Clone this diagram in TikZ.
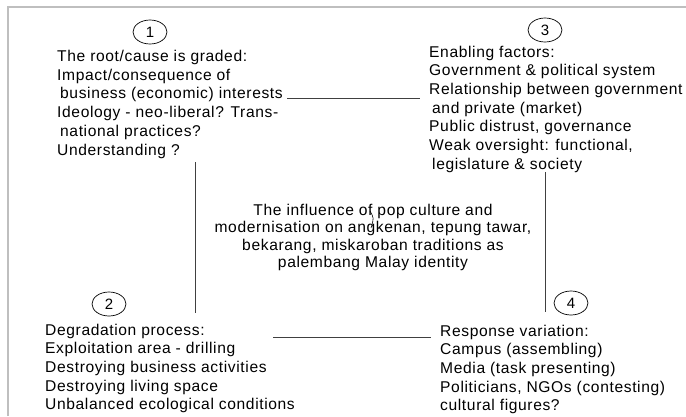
\documentclass[tikz,border=0pt]{standalone}
\usepackage{fontspec}
\setmainfont{Liberation Sans}[LetterSpace=4]
\usetikzlibrary{shapes.geometric,positioning}

\begin{document}
\begin{tikzpicture}[x=1pt,y=-1pt,
  num/.style={draw,ellipse,minimum width=34pt,minimum height=24pt,inner sep=0pt,line width=0.7pt,font=\fontsize{15}{18}\selectfont},
  block/.style={align=left,anchor=north west,inner sep=0pt,font=\fontsize{15.6}{18.7}\selectfont},
  link/.style={draw=black!75,line width=1pt}]
  \useasboundingbox (0,0) rectangle (686,416);
  \draw[black!25,line width=2pt] (8,416) -- (8,7) -- (686,7);

  % numbered points
  \node[num] (n1) at (150,32) {1};
  \node[num] (n3) at (545,30) {3};
  \node[num] (n2) at (109,304) {2};
  \node[num] (n4) at (571,303) {4};

  \node[block] (cause) at (57,50) {The root/cause is graded:\\
    Impact/consequence of\\
    \hspace{3pt}business (economic) interests\\
    Ideology - neo-liberal? Trans-\\
    \hspace{3pt}national practices?\\
    Understanding ?};
  \node[block] (enable) at (429,45.5) {Enabling factors:\\
    Government \& political system\\
    Relationship between government\\
    \hspace{3pt}and private (market)\\
    Public distrust, governance\\
    Weak oversight: functional,\\
    \hspace{3pt}legislature \& society};
  \node[block] (degrade) at (45,323.5) {Degradation process:\\
    Exploitation area - drilling\\
    Destroying business activities\\
    Destroying living space\\
    Unbalanced ecological conditions};
  \node[block] (response) at (440,324.5) {Response variation:\\
    Campus (assembling)\\
    Media (task presenting)\\
    Politicians, NGOs (contesting)\\
    cultural figures?};
  \node[align=center,anchor=north,inner sep=0pt,font=\fontsize{15.6}{17.5}\selectfont] (topic) at (373,203.5)
    {The influence of pop culture and\\
    modernisation on angkenan, tepung tawar,\\
    bekarang, miskaroban traditions as\\
    palembang Malay identity};

  % connector ends
  \coordinate (a1) at (287,98);
  \coordinate (a3) at (420,98);
  \coordinate (b1) at (195,162);
  \coordinate (b2) at (195,313);
  \coordinate (c3) at (545,172);
  \coordinate (c4) at (545,312);
  \coordinate (d2) at (273,337);
  \coordinate (d4) at (431,337);
  \coordinate (m1) at (370,211);
  \coordinate (m2) at (371,228);

  \path[link] (a1) -- (a3);
  \path[link] (b1) -- (b2);
  \path[link] (c3) -- (c4);
  \path[link] (d2) -- (d4);
  \draw[line width=0.6pt] (m1) .. controls (374,218) .. (m2);
\end{tikzpicture}
\end{document}
